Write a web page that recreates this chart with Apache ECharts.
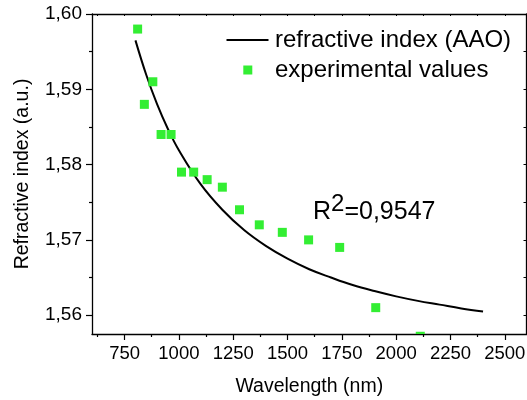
<!DOCTYPE html>
<html><head><meta charset="utf-8">
<script src="https://cdn.jsdelivr.net/npm/echarts@6/dist/echarts.min.js"></script>
<style>html,body{margin:0;padding:0;background:#fff}#c{width:527px;height:400px}</style>
</head><body><div id="c"></div><script>
// ---- data ----
var wavelengths = [810, 841, 880, 918, 964, 1012, 1068, 1130, 1200, 1279, 1370, 1476, 1597, 1740, 1906, 2111];
var experimental = [1.598, 1.588, 1.591, 1.584, 1.584, 1.579, 1.579, 1.578, 1.577, 1.574, 1.572, 1.571, 1.570, 1.569, 1.561, 1.5572];
var fitWavelengths = [800, 850, 900, 950, 1000, 1100, 1200, 1300, 1400, 1500, 1600, 1700, 1800, 1900, 2000, 2100, 2200, 2300, 2400];
var fitIndex = [1.5965, 1.5919, 1.5880, 1.5847, 1.5819, 1.5774, 1.5740, 1.5713, 1.5692, 1.5675, 1.5661, 1.5650, 1.5640, 1.5632, 1.5625, 1.5619, 1.5614, 1.5609, 1.5605];
var xMajorTicks = [750, 1000, 1250, 1500, 1750, 2000, 2250, 2500];
var xMinorTicks = [625, 875, 1125, 1375, 1625, 1875, 2125, 2375];
var yMajorTicks = [1.56, 1.57, 1.58, 1.59, 1.60];
var yMinorTicks = [1.565, 1.575, 1.585, 1.595];
var fitName = 'refractive index (AAO)';
var expName = 'experimental values';
var r2Value = '0,9547';

// ---- chart ----
var FONT = 'Liberation Sans, Arial, Helvetica, sans-serif';
var GREEN = '#33ee33';
var chart = echarts.init(document.getElementById('c'), null, {renderer: 'canvas'});
var xAll = xMajorTicks.concat(xMinorTicks).sort(function(a,b){return a-b;});
var yAll = yMajorTicks.concat(yMinorTicks).sort(function(a,b){return a-b;});
var axisLineStyle = {color: '#000', width: 1.3};
var X_MIN = 600, X_MAX = 2600, Y_MIN = 1.5575, Y_MAX = 1.60;

function xAxisBase(extra) {
  return Object.assign({
    type: 'value', min: X_MIN, max: X_MAX, splitLine: {show: false},
    axisLine: {show: false}, axisLabel: {show: false}, axisTick: {show: false}
  }, extra);
}
function yAxisBase(extra) {
  return Object.assign({
    type: 'value', min: Y_MIN, max: Y_MAX, splitLine: {show: false},
    axisLine: {show: false}, axisLabel: {show: false}, axisTick: {show: false}
  }, extra);
}

var option = {
  animation: false,
  backgroundColor: '#fff',
  textStyle: {fontFamily: FONT},
  grid: {left: 92, top: 14, right: 0.5, bottom: 66, containLabel: false, outerBoundsMode: 'none'},
  legend: [
    {
      data: [{name: fitName, icon: 'rect'}], left: 226.5, top: 28, padding: 0, itemWidth: 42, itemHeight: 2,
      selectedMode: false, itemStyle: {color: '#000'},
      formatter: function (n) { return '{p|}' + n; },
      textStyle: {fontFamily: FONT, fontSize: 24, color: '#000', rich: {p: {width: 1.5}}}
    },
    {
      data: [{name: expName, icon: 'rect'}], left: 243.3, top: 58, padding: 0, itemWidth: 9, itemHeight: 9,
      selectedMode: false,
      formatter: function (n) { return '{p|}' + n; },
      textStyle: {fontFamily: FONT, fontSize: 24, color: '#000', rich: {p: {width: 17.7}}}
    }
  ],
  xAxis: [
    xAxisBase({
      position: 'bottom',
      name: 'Wavelength (nm)', nameLocation: 'middle', nameGap: 43,
      nameTextStyle: {fontFamily: FONT, fontSize: 19.5, color: '#000'},
      axisLine: {show: true, onZero: false, lineStyle: axisLineStyle},
      axisTick: {show: true, customValues: xMajorTicks, length: 6, lineStyle: {color: '#000', width: 1.2}},
      axisLabel: {show: true, customValues: xMajorTicks, margin: 10, fontSize: 18.5, color: '#000', fontFamily: FONT,
        formatter: function (v) { return String(v); }}
    }),
    xAxisBase({
      position: 'bottom',
      axisTick: {show: true, customValues: xMinorTicks, length: 3, lineStyle: {color: '#000', width: 1.2}}
    }),
    xAxisBase({
      position: 'top',
      axisLine: {show: true, onZero: false, lineStyle: axisLineStyle},
      axisTick: {show: true, inside: true, customValues: xAll, length: 2, lineStyle: {color: '#000', width: 1}}
    })
  ],
  yAxis: [
    yAxisBase({
      position: 'left',
      name: 'Refractive index (a.u.)', nameLocation: 'middle', nameGap: 59,
      nameTextStyle: {fontFamily: FONT, fontSize: 19.5, color: '#000'},
      axisLine: {show: true, onZero: false, lineStyle: axisLineStyle},
      axisTick: {show: true, customValues: yMajorTicks, length: 6, lineStyle: {color: '#000', width: 1.2}},
      axisLabel: {show: true, customValues: yMajorTicks, margin: 10, fontSize: 19, color: '#000', fontFamily: FONT,
        formatter: function (v) { return v.toFixed(2).replace('.', ','); }}
    }),
    yAxisBase({
      position: 'left',
      axisTick: {show: true, customValues: yMinorTicks, length: 3, lineStyle: {color: '#000', width: 1.2}}
    }),
    yAxisBase({
      position: 'right',
      axisLine: {show: true, onZero: false, lineStyle: axisLineStyle},
      axisTick: {show: true, inside: true, customValues: yAll, length: 3, lineStyle: {color: '#000', width: 1}}
    })
  ],
  graphic: [{
    type: 'text', left: 313, top: 192.5, z: 10,
    style: {
      text: '{a|R}{s|2}{a|=' + r2Value + '}',
      font: '25px ' + FONT,
      fill: '#000',
      rich: {
        a: {fontFamily: FONT, fontSize: 25, lineHeight: 30, fill: '#000'},
        s: {fontFamily: FONT, fontSize: 24, lineHeight: 24, padding: [0, 0, 16, 0], fill: '#000'}
      }
    }
  }],
  series: [
    {
      name: fitName, type: 'line', xAxisIndex: 0, yAxisIndex: 0,
      data: fitWavelengths.map(function (x, i) { return [x, fitIndex[i]]; }),
      smooth: 0.4, symbol: 'none', z: 2,
      lineStyle: {color: '#000', width: 2},
      itemStyle: {color: '#000'}
    },
    {
      name: expName, type: 'custom', xAxisIndex: 0, yAxisIndex: 0, z: 3,
      itemStyle: {color: GREEN},
      encode: {x: 0, y: 1},
      data: wavelengths.map(function (x, i) { return [x, experimental[i]]; }),
      renderItem: function (params, api) {
        var c = api.coord([api.value(0), api.value(1)]);
        var s = 9;
        var cs = params.coordSys;
        var r = echarts.graphic.clipRectByRect(
          {x: c[0] - s / 2, y: c[1] - s / 2, width: s, height: s},
          {x: cs.x, y: cs.y, width: cs.width, height: cs.height});
        if (!r) return null;
        return {type: 'rect', shape: r, style: {fill: GREEN}};
      }
    }
  ]
};
chart.setOption(option);
</script></body></html>
